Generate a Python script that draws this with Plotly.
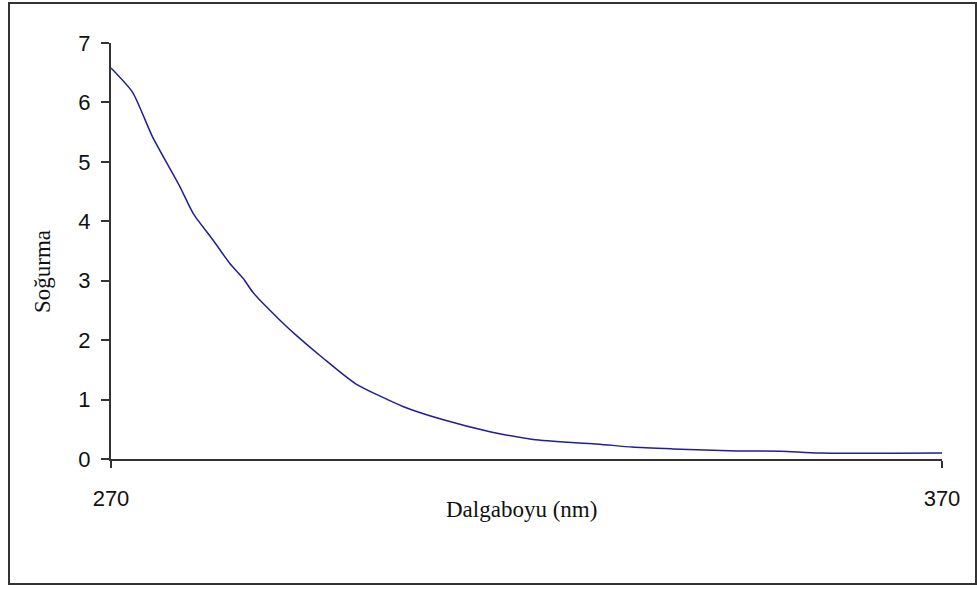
import plotly.graph_objects as go

# Absorption spectrum: wavelength (nm) vs absorbance
wavelength = [270, 272.6, 275.0, 278.3, 279.9, 282.3, 284.3, 285.9, 287.1, 290.3,
              292.3, 295.5, 299.4, 305.2, 310.0, 315.6, 320.8, 326.4, 328.8, 332.7,
              337.6, 345.3, 350.6, 355.2, 370]
absorbance = [6.58, 6.17, 5.42, 4.58, 4.13, 3.68, 3.29, 3.04, 2.80, 2.34,
              2.08, 1.70, 1.27, 0.88, 0.66, 0.46, 0.33, 0.27, 0.25, 0.20,
              0.17, 0.135, 0.13, 0.10, 0.10]

x_ticks = [270, 370]
y_ticks = [0, 1, 2, 3, 4, 5, 6, 7]

W, H = 977, 590
ml, mr, mt, mb = 111, 35, 43, 131

fig = go.Figure()
fig.add_trace(go.Scatter(
    x=wavelength, y=absorbance, mode="lines",
    line=dict(color="#1f1f96", width=1.5, shape="spline", smoothing=0.6),
    showlegend=False, hoverinfo="x+y",
))

axis_font = dict(family="Liberation Sans, Arial, sans-serif", size=22, color="#111111")

fig.update_xaxes(
    range=[270, 370], tickvals=x_ticks, ticks="outside", ticklen=7, tickwidth=2,
    tickcolor="#333333", showline=True, linecolor="#333333", linewidth=2,
    showgrid=False, zeroline=False, tickfont=axis_font, ticklabelstandoff=12,
)
fig.update_yaxes(
    range=[0, 7], tickvals=y_ticks, ticks="outside", ticklen=8, tickwidth=2,
    tickcolor="#333333", showline=True, linecolor="#333333", linewidth=2,
    showgrid=False, zeroline=False, tickfont=axis_font, ticklabelstandoff=6,
)

pw = W - ml - mr
ph = H - mt - mb

def px_x(p):
    return (p - ml) / pw

def px_y(p):
    return (H - mb - p) / ph

serif = dict(family="Liberation Serif, Times New Roman, serif", size=23, color="#111111")

fig.update_layout(
    width=W, height=H,
    margin=dict(l=ml, r=mr, t=mt, b=mb),
    paper_bgcolor="white", plot_bgcolor="white",
    shapes=[dict(
        type="rect", xref="paper", yref="paper",
        x0=px_x(9), x1=px_x(976), y0=px_y(584), y1=px_y(3),
        line=dict(color="#333333", width=2), fillcolor="rgba(0,0,0,0)", layer="below",
    )],
    annotations=[
        dict(text="Dalgaboyu (nm)", xref="paper", yref="paper",
             x=px_x(521), y=px_y(510), showarrow=False, font=serif,
             xanchor="center", yanchor="middle"),
        dict(text="Soğurma", xref="paper", yref="paper",
             x=px_x(42), y=px_y(272), showarrow=False, font=serif, textangle=-90,
             xanchor="center", yanchor="middle"),
    ],
)

fig.write_html("out.html")
